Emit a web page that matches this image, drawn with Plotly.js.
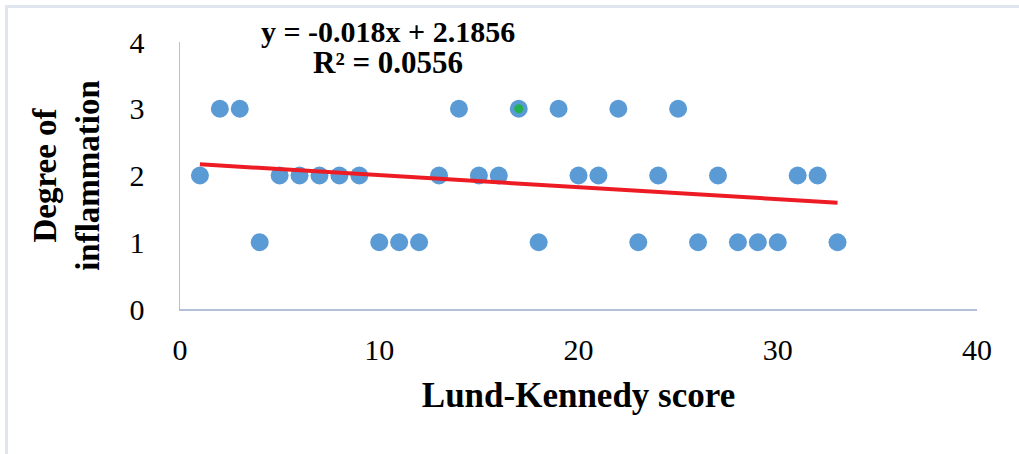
<!DOCTYPE html>
<html>
<head>
<meta charset="utf-8">
<script src="https://cdn.plot.ly/plotly-3.0.1.min.js"></script>
<style>
  html, body { margin: 0; padding: 0; background: #ffffff; }
  #wrap { position: relative; width: 1019px; height: 454px; }
  #chart { width: 1019px; height: 454px; }
  #frame { position: absolute; left: 5px; top: 5px; right: 0; bottom: 0;
           border-top: 3px solid #e0e5ee; border-left: 3px solid #e0e5ee;
           pointer-events: none; }
</style>
</head>
<body>
<div id="wrap"><div id="chart"></div><div id="frame"></div></div>
<script>
// Lund-Kennedy score (x) vs degree of inflammation (y)
const lundKennedy = [1,2,3,4,5,6,7,8,9,10,11,12,13,14,15,16,17,18,19,20,21,22,23,24,25,26,27,28,29,30,31,32,33];
const inflammation = [2,3,3,1,2,2,2,2,2,1,1,1,2,3,2,2,3,1,3,2,2,3,1,2,3,1,2,1,1,1,2,2,1];
// highlighted point (green dot)
const highlightX = [17];
const highlightY = [3];
// linear trendline (from the chart's equation)
const slope = -0.018;
const intercept = 2.1856;
const rSquared = 0.0556;
const trendX = [1, 33];
const trendY = trendX.map(x => intercept + slope * x);
const xTicks = [0, 10, 20, 30, 40];
const yTicks = [0, 1, 2, 3, 4];

const serif = '"Liberation Serif", "Times New Roman", serif';

const traces = [
  {
    x: lundKennedy, y: inflammation, type: 'scatter', mode: 'markers',
    marker: { color: '#5b9bd5', size: 18 }, showlegend: false, hoverinfo: 'x+y'
  },
  {
    x: trendX, y: trendY, type: 'scatter', mode: 'lines',
    line: { color: '#ed1c24', width: 4 }, showlegend: false
  },
  {
    x: highlightX, y: highlightY, type: 'scatter', mode: 'markers',
    marker: { color: '#22b14c', size: 9 }, showlegend: false
  }
];

const layout = {
  width: 1019, height: 454,
  margin: { l: 180, r: 42, t: 42, b: 145 },
  paper_bgcolor: 'rgba(0,0,0,0)', plot_bgcolor: 'rgba(0,0,0,0)',
  font: { family: serif, color: '#000000' },
  xaxis: {
    range: [0, 40], tickvals: xTicks, ticktext: xTicks.map(String),
    showgrid: false, zeroline: false, showline: true,
    linecolor: '#b4c0d8', linewidth: 1.5, ticks: '',
    ticklabelstandoff: 13,
    tickfont: { family: serif, size: 30, color: '#000' },
    title: { text: '<b>Lund-Kennedy score</b>', standoff: 18,
             font: { family: serif, size: 35, color: '#000' } }
  },
  yaxis: {
    range: [0, 4], tickvals: yTicks, ticktext: yTicks.map(String),
    showgrid: false, zeroline: false, showline: true,
    linecolor: '#b4c0d8', linewidth: 1.5, ticks: '',
    ticklabelstandoff: 28,
    tickfont: { family: serif, size: 30, color: '#000' },
    title: { text: '<b>Degree of<br>inflammation</b>', standoff: 20,
             font: { family: serif, size: 33, color: '#000' } }
  },
  annotations: [
    { xref: 'paper', yref: 'paper', x: 0.261, y: 1.041, xanchor: 'center', yanchor: 'middle',
      text: '<b>y = ' + slope.toFixed(3) + 'x + ' + intercept.toFixed(4) + '</b>',
      showarrow: false, font: { family: serif, size: 30, color: '#000' } },
    { xref: 'paper', yref: 'paper', x: 0.261, y: 0.925, xanchor: 'center', yanchor: 'middle',
      text: '<b>R² = ' + rSquared.toFixed(4) + '</b>',
      showarrow: false, font: { family: serif, size: 31, color: '#000' } }
  ]
};

Plotly.newPlot('chart', traces, layout, { displayModeBar: false, staticPlot: true });
</script>
</body>
</html>
